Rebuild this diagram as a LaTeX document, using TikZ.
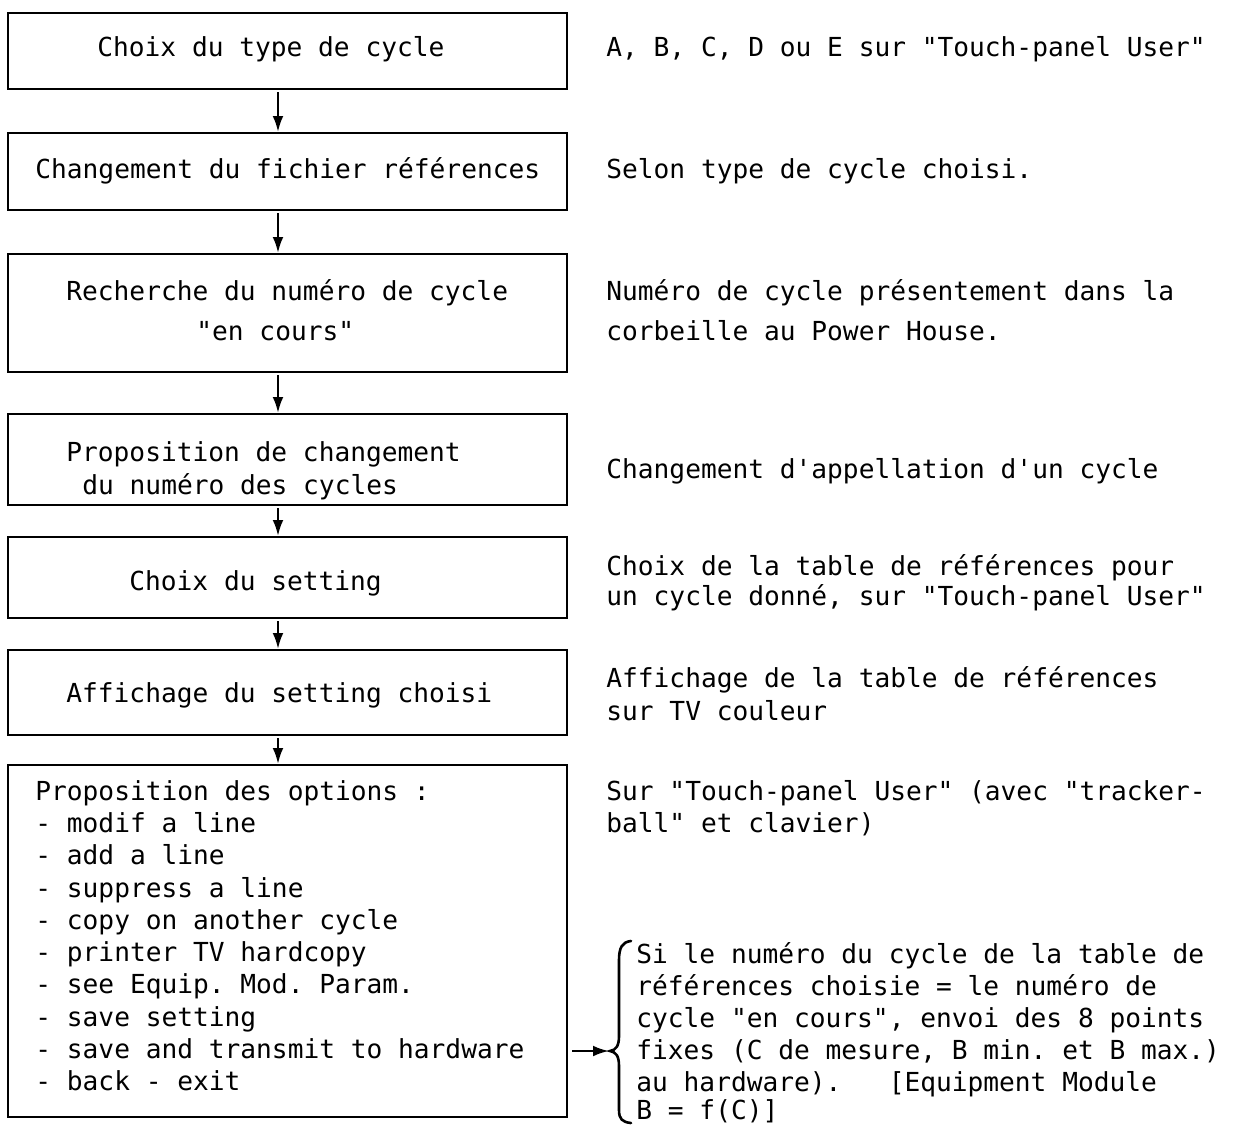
\documentclass[tikz,border=0pt]{standalone}
\usepackage{fontspec}
\newfontfamily\typew{DejaVu Sans Mono}
\usetikzlibrary{arrows.meta}
\frenchspacing

\begin{document}
\begin{tikzpicture}[x=0.5pt,y=-0.5pt,
  box/.style={draw, line width=1pt, rectangle, inner sep=0pt, minimum width=559*0.5pt},
  txt/.style={anchor=base west, inner sep=0pt, font=\fontsize{13.1}{16}\typew},
  flow/.style={-{Latex[length=8pt,width=5.4pt]}, line width=1.2pt, shorten <=1pt},
  brace/.style={line width=1.3pt, line cap=round}]

% page frame
\useasboundingbox (0,0) rectangle (1241,1125);

% process boxes
\node[box, minimum height=76*0.5pt]  (b1) at (287.5,51)    {};
\node[box, minimum height=77*0.5pt]  (b2) at (287.5,171.5) {};
\node[box, minimum height=118*0.5pt] (b3) at (287.5,313)   {};
\node[box, minimum height=91*0.5pt]  (b4) at (287.5,459.5) {};
\node[box, minimum height=81*0.5pt]  (b5) at (287.5,577.5) {};
\node[box, minimum height=85*0.5pt]  (b6) at (287.5,692.5) {};
\node[box, minimum height=352*0.5pt] (b7) at (287.5,941)   {};

% texts inside the boxes
\node[txt] (t1)  at (97,56)   {Choix du type de cycle};
\node[txt] (t2)  at (35,178)  {Changement du fichier références};
\node[txt] (t3a) at (66,300)  {Recherche du numéro de cycle};
\node[txt] (t3b) at (196,340) {"en cours"};
\node[txt] (t4a) at (66,461)  {Proposition de changement};
\node[txt] (t4b) at (82,494)  {du numéro des cycles};
\node[txt] (t5)  at (129,590) {Choix du setting};
\node[txt] (t6)  at (66,702)  {Affichage du setting choisi};

\foreach \k/\s in {0/{Proposition des options :},
                   1/{- modif a line},
                   2/{- add a line},
                   3/{- suppress a line},
                   4/{- copy on another cycle},
                   5/{- printer TV hardcopy},
                   6/{- see Equip. Mod. Param.},
                   7/{- save setting},
                   8/{- save and transmit to hardware},
                   9/{- back - exit}}
  \node[txt] (opt\k) at (35,800+32.33*\k) {\s};

% comments on the right
\node[txt] (r1)  at (606,56)  {A, B, C, D ou E sur "Touch-panel User"};
\node[txt] (r2)  at (606,178) {Selon type de cycle choisi.};
\node[txt] (r3a) at (606,300) {Numéro de cycle présentement dans la};
\node[txt] (r3b) at (606,340) {corbeille au Power House.};
\node[txt] (r4)  at (606,478) {Changement d'appellation d'un cycle};
\node[txt] (r5a) at (606,575) {Choix de la table de références pour};
\node[txt] (r5b) at (606,605) {un cycle donné, sur "Touch-panel User"};
\node[txt] (r6a) at (606,687) {Affichage de la table de références};
\node[txt] (r6b) at (606,720) {sur TV couleur};
\node[txt] (r7a) at (606,800) {Sur "Touch-panel User" (avec "tracker-};
\node[txt] (r7b) at (606,832) {ball" et clavier)};

% transmission note
\node[txt] (n1) at (636,963)  {Si le numéro du cycle de la table de};
\node[txt] (n2) at (636,995)  {références choisie = le numéro de};
\node[txt] (n3) at (636,1027) {cycle "en cours", envoi des 8 points};
\node[txt] (n4) at (636,1059) {fixes (C de mesure, B min. et B max.)};
\node[txt] (n5) at (636,1091) {au hardware).\ \ \ [Equipment Module};
\node[txt] (n6) at (636,1119) {B = f(C)]};

% flow arrows
\coordinate (ax) at (278,0);
\draw[flow] (b1.south -| ax) -- (b2.north -| ax);
\draw[flow] (b2.south -| ax) -- (b3.north -| ax);
\draw[flow] (b3.south -| ax) -- (b4.north -| ax);
\draw[flow] (b4.south -| ax) -- (b5.north -| ax);
\draw[flow] (b5.south -| ax) -- (b6.north -| ax);
\draw[flow] (b6.south -| ax) -- (b7.north -| ax);

% brace and arrow to the note
\coordinate (tip) at (609,1051);
\draw[flow, shorten <=2pt] (b7.east |- tip) -- (tip);
\draw[brace] (631,941) .. controls (622,942) and (619,948) .. (619,960)
  -- (619,1036) .. controls (619,1046) and (616,1050) .. (610,1051)
  .. controls (616,1052) and (619,1056) .. (619,1066)
  -- (619,1110) .. controls (619,1119) and (622,1122) .. (631,1123);
\end{tikzpicture}
\end{document}
